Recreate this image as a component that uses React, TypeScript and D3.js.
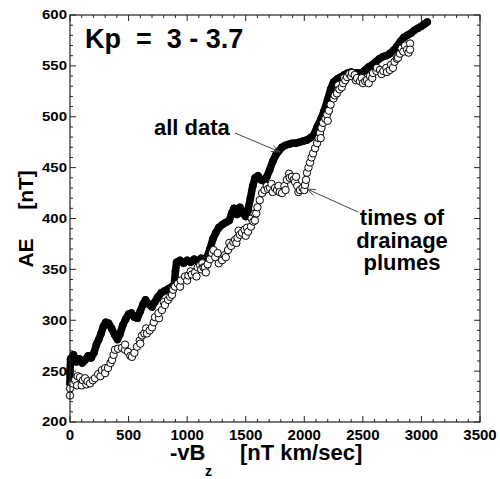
import React from 'react';
import * as d3 from 'd3';

// -vBz [nT km/sec] vs AE [nT], Kp 3 - 3.7
const allData: [number, number][] = [
  [0, 238], [0, 250], [5, 262], [30, 266], [55, 259], [80, 262], [105, 258], [130, 261],
  [155, 265], [180, 263], [205, 268], [225, 276], [245, 281], [265, 287], [285, 294],
  [305, 298], [330, 297], [355, 292], [380, 286], [405, 281], [425, 286], [450, 295],
  [475, 301], [500, 306], [525, 307], [550, 303], [575, 302], [600, 309], [625, 316],
  [645, 320], [670, 316], [700, 313], [725, 318], [750, 323], [780, 327], [810, 329],
  [840, 331], [870, 333], [890, 335], [900, 348], [910, 357], [940, 359], [970, 356],
  [1000, 359], [1030, 357], [1060, 360], [1090, 358], [1120, 361], [1150, 357], [1170, 362],
  [1195, 370], [1220, 380], [1245, 386], [1270, 391], [1300, 394], [1330, 396], [1360, 398],
  [1380, 405], [1400, 410], [1425, 404], [1450, 411], [1475, 405], [1500, 402], [1520, 409],
  [1540, 420], [1560, 432], [1580, 440], [1605, 442], [1630, 438], [1655, 437], [1680, 441],
  [1705, 448], [1730, 456], [1755, 462], [1780, 466], [1810, 470], [1840, 472], [1870, 473],
  [1900, 474], [1930, 474], [1960, 475], [1990, 476], [2020, 477], [2050, 479], [2080, 482],
  [2110, 490], [2140, 497], [2170, 506], [2200, 517], [2225, 527], [2250, 534], [2280, 537],
  [2310, 539], [2340, 541], [2370, 543], [2400, 544], [2430, 543], [2460, 543], [2490, 543],
  [2520, 546], [2550, 549], [2580, 551], [2610, 554], [2640, 557], [2670, 559], [2700, 560],
  [2730, 562], [2760, 565], [2790, 569], [2820, 574], [2850, 578], [2880, 580], [2910, 582],
  [2940, 585], [2970, 587], [3000, 589], [3025, 591], [3050, 593],
];

const plumeData: [number, number][] = [
  [0, 226], [0, 233], [20, 238], [43, 241], [60, 236], [65, 245], [85, 244], [100, 236],
  [110, 241], [128, 243], [140, 237], [150, 240], [171, 238], [195, 241], [213, 243],
  [240, 247], [260, 245], [273, 251], [300, 253], [300, 248], [324, 253], [345, 258],
  [359, 261], [372, 266], [384, 271], [410, 272], [444, 273], [470, 271], [470, 276],
  [495, 269], [515, 265], [529, 264], [550, 268], [572, 274], [595, 280], [600, 277],
  [615, 285], [635, 287], [650, 292], [657, 287], [680, 290], [700, 293], [715, 298],
  [726, 303], [760, 302], [755, 307], [785, 310], [800, 318], [810, 315], [837, 320],
  [855, 323], [871, 325], [880, 330], [896, 333], [920, 336], [940, 333], [945, 339],
  [982, 343], [1000, 339], [1010, 344], [1030, 348], [1040, 345], [1067, 347], [1080, 343],
  [1090, 352], [1110, 354], [1120, 350], [1130, 356], [1140, 352], [1152, 352], [1160, 347],
  [1175, 355], [1195, 360], [1212, 366], [1225, 369], [1240, 362], [1260, 366], [1270, 356],
  [1298, 359], [1320, 364], [1330, 362], [1349, 369], [1360, 376], [1375, 373], [1395, 377],
  [1409, 379], [1420, 376], [1430, 381], [1440, 388], [1450, 384], [1468, 386], [1490, 389],
  [1500, 383], [1511, 391], [1520, 387], [1545, 392], [1550, 400], [1565, 397], [1575, 405],
  [1579, 398], [1590, 405], [1600, 411], [1620, 418], [1640, 425], [1660, 428], [1680, 432],
  [1690, 429], [1707, 430], [1720, 434], [1730, 426], [1750, 430], [1767, 428], [1780, 432],
  [1790, 426], [1810, 425], [1830, 432], [1840, 428], [1852, 438], [1870, 444], [1875, 440],
  [1895, 441], [1910, 438], [1921, 436], [1930, 441], [1940, 432], [1950, 426], [1963, 428],
  [1985, 430], [2000, 428], [2006, 433], [2015, 438], [2023, 445], [2036, 450], [2049, 455],
  [2062, 460], [2075, 464], [2092, 469], [2109, 474], [2122, 479], [2134, 484], [2140, 479],
  [2147, 489], [2160, 494], [2180, 498], [2194, 502], [2200, 496], [2210, 506], [2225, 512],
  [2250, 518], [2260, 521], [2279, 523], [2290, 531], [2300, 527], [2320, 529], [2331, 533],
  [2340, 538], [2350, 536], [2365, 539], [2385, 542], [2400, 540], [2407, 543], [2430, 541],
  [2440, 536], [2450, 538], [2475, 535], [2490, 538], [2501, 533], [2520, 535], [2535, 536],
  [2550, 533], [2560, 540], [2580, 538], [2587, 543], [2615, 545], [2620, 548], [2646, 546],
  [2660, 542], [2675, 545], [2700, 548], [2706, 544], [2730, 546], [2740, 551], [2757, 548],
  [2770, 554], [2790, 557], [2800, 558], [2817, 562], [2830, 567], [2845, 564], [2860, 570],
  [2877, 566], [2890, 563], [2903, 572], [2903, 566],
];

const xTicks = [0, 500, 1000, 1500, 2000, 2500, 3000, 3500];
const yTicks = [200, 250, 300, 350, 400, 450, 500, 550, 600];

const FONT = '"Liberation Sans", Arial, Helvetica, sans-serif';

export default function App() {
  const width = 500;
  const height = 479;
  const left = 70, right = 480, top = 15, bottom = 422;

  const x = d3.scaleLinear().domain([0, 3500]).range([left, right]);
  const y = d3.scaleLinear().domain([200, 600]).range([bottom, top]);

  const xMinor = d3.range(0, 3501, 100);
  const yMinor = d3.range(200, 601, 10);

  const line = d3.line<[number, number]>()
    .x(d => x(d[0]))
    .y(d => y(d[1]));

  const axisColor = '#222';

  const arrowHead = (x1: number, y1: number, x2: number, y2: number, len = 9) => {
    const a = Math.atan2(y2 - y1, x2 - x1);
    const p1 = [x2 - len * Math.cos(a - 0.35), y2 - len * Math.sin(a - 0.35)];
    const p2 = [x2 - len * Math.cos(a + 0.35), y2 - len * Math.sin(a + 0.35)];
    return `M${p1[0]},${p1[1]}L${x2},${y2}L${p2[0]},${p2[1]}`;
  };

  return (
    <div style={{ position: 'absolute', left: 0, top: 0 }}>
      <svg width={width} height={height} style={{ display: 'block', background: '#fff' }} fontFamily={FONT}>
        {/* all data: dense filled markers */}
        <path d={line(allData) || ''} fill="none" stroke="#000" strokeWidth={7.5}
          strokeLinejoin="round" strokeLinecap="round" />
        {allData.map((d, i) => (
          <circle key={'a' + i} cx={x(d[0])} cy={y(d[1])} r={3.8} fill="#000" />
        ))}

        {/* times of drainage plumes: open markers */}
        {plumeData.map((d, i) => (
          <circle key={'p' + i} cx={x(d[0])} cy={y(d[1])} r={3.7} fill="#fff"
            stroke="#000" strokeWidth={1} />
        ))}

        {/* frame */}
        <rect x={left} y={top} width={right - left} height={bottom - top} fill="none"
          stroke={axisColor} strokeWidth={1.2} />

        {/* x ticks, bottom and top */}
        {xMinor.map(v => {
          const len = v % 500 === 0 ? 6 : 3;
          return (
            <g key={'xt' + v} stroke={axisColor} strokeWidth={1}>
              <line x1={x(v)} x2={x(v)} y1={bottom} y2={bottom - len} />
              <line x1={x(v)} x2={x(v)} y1={top} y2={top + len} />
            </g>
          );
        })}
        {/* y ticks, left and right */}
        {yMinor.map(v => {
          const len = v % 50 === 0 ? 6 : 3;
          return (
            <g key={'yt' + v} stroke={axisColor} strokeWidth={1}>
              <line x1={left} x2={left + len} y1={y(v)} y2={y(v)} />
              <line x1={right} x2={right - len} y1={y(v)} y2={y(v)} />
            </g>
          );
        })}

        {xTicks.map(v => (
          <text key={'xl' + v} x={x(v)} y={440} textAnchor="middle" fontSize={15}
            fontWeight="bold" fill="#000">{v}</text>
        ))}
        {yTicks.map(v => (
          <text key={'yl' + v} transform={`translate(67,${y(v)}) scale(1,0.82)`}
            textAnchor="end" dy="0.36em" fontSize={15} fontWeight="bold" fill="#000">{v}</text>
        ))}

        {/* axis titles */}
        <text x={170} y={460} fontSize={22} fontWeight="bold" fill="#000">-vB</text>
        <text x={205} y={476} fontSize={14} fontWeight="bold" fill="#000">z</text>
        <text x={240} y={460} fontSize={22} fontWeight="bold" fill="#000">[nT km/sec]</text>

        <text transform="translate(33,253) rotate(-90)" textAnchor="middle" fontSize={21}
          fontWeight="bold" fill="#000">AE</text>
        <text transform="translate(33,190) rotate(-90)" textAnchor="middle" fontSize={21}
          fontWeight="bold" fill="#000">[nT]</text>

        {/* annotations */}
        <text x={85} y={48} fontSize={27} fontWeight="bold" fill="#000"
          style={{ whiteSpace: 'pre' }}>{'Kp  =  3 - 3.7'}</text>

        <text x={154} y={135} fontSize={22} fontWeight="bold" fill="#000">all data</text>
        <line x1={235} y1={133} x2={280} y2={152} stroke="#444" strokeWidth={1} />
        <path d={arrowHead(235, 133, 280, 152)} fill="none" stroke="#444" strokeWidth={1} />

        <g fontSize={22} fontWeight="bold" fill="#000" textAnchor="middle">
          <text x={402} y={225}>times of</text>
          <text x={402} y={248}>drainage</text>
          <text x={402} y={270}>plumes</text>
        </g>
        <line x1={358} y1={212} x2={307} y2={189} stroke="#444" strokeWidth={1} />
        <path d={arrowHead(358, 212, 307, 189)} fill="none" stroke="#444" strokeWidth={1} />
      </svg>
    </div>
  );
}
